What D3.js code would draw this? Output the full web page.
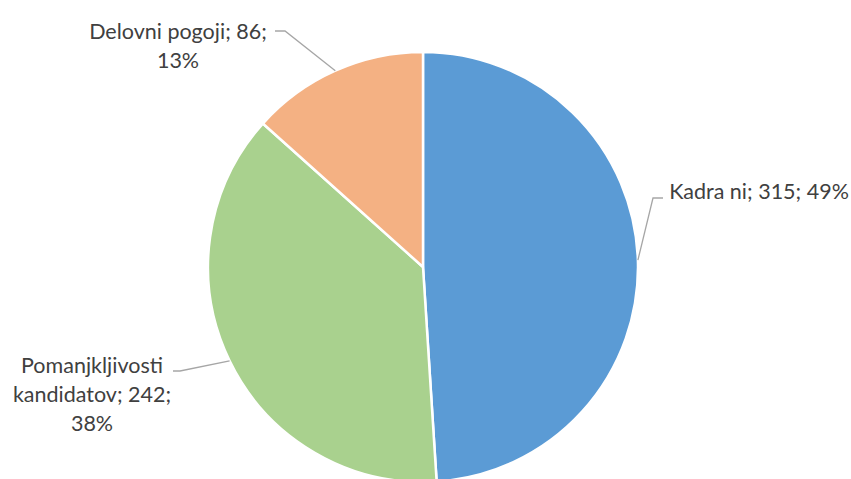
<!DOCTYPE html>
<html>
<head>
<meta charset="utf-8">
<script src="https://cdn.jsdelivr.net/npm/d3@7"></script>
<style>
  body { margin: 0; background: #fff; }
  svg text { font-family: Lato, "Open Sans", sans-serif; fill: #404040; }
</style>
</head>
<body>
<svg id="chart" width="851" height="479"></svg>
<script>
// data
var categories = ["Kadra ni", "Pomanjkljivosti kandidatov", "Delovni pogoji"];
var values = [315, 242, 86];
var percents = ["49%", "38%", "13%"];
var colors = ["#5B9BD5", "#A9D18E", "#F4B183"];

// label lines (text broken like the original) + where each label sits
var labelLines = [
  ["Kadra ni; 315; 49%"],
  ["Pomanjkljivosti", "kandidatov; 242;", "38%"],
  ["Delovni pogoji; 86;", "13%"]
];
var labelLayout = [
  {x: 759, y: 191, elbow: [[653, 198], [663, 198]]},
  {x: 92, y: 365, elbow: [[180, 371], [173, 371]]},
  {x: 178, y: 31, elbow: [[285, 31], [275, 31]]}
];

var svg = d3.select("#chart");
var cx = 423, cy = 267, r = 215;

var data = categories.map(function(c, i) {
  return {name: c, value: values[i], pct: percents[i], color: colors[i], i: i};
});

var pie = d3.pie().sort(null).value(function(d) { return d.value; });
var arc = d3.arc().innerRadius(0).outerRadius(r);
var arcs = pie(data);

var g = svg.append("g").attr("transform", "translate(" + cx + "," + cy + ")");

g.selectAll("path.slice")
  .data(arcs)
  .enter().append("path")
    .attr("class", "slice")
    .attr("d", arc)
    .attr("fill", function(d) { return d.data.color; })
    .attr("stroke", "#fff")
    .attr("stroke-width", 2.5)
    .attr("stroke-linejoin", "round");

// leader lines from slice edge to label
arcs.forEach(function(a, i) {
  var mid = (a.startAngle + a.endAngle) / 2;
  var px = cx + r * Math.sin(mid), py = cy - r * Math.cos(mid);
  var pts = [[px, py]].concat(labelLayout[i].elbow);
  svg.append("path")
    .attr("d", d3.line()(pts))
    .attr("fill", "none")
    .attr("stroke", "#A6A6A6")
    .attr("stroke-width", 1.3);
});

labelLayout.forEach(function(L, i) {
  var t = svg.append("text")
    .attr("text-anchor", "middle")
    .attr("font-size", "21.5px");
  labelLines[i].forEach(function(s, k) {
    t.append("tspan")
      .attr("x", L.x)
      .attr("y", L.y + k * 29)
      .attr("dy", "0.35em")
      .text(s);
  });
});
</script>
</body>
</html>
